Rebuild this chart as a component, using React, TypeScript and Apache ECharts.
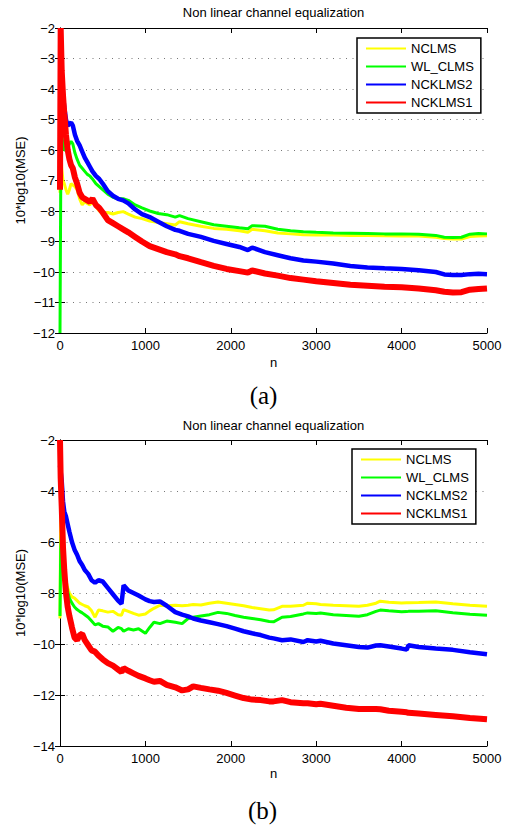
import React, { useEffect, useRef } from "react";
import * as echarts from "echarts";

const seriesNames = ["NCLMS", "WL_CLMS", "NCKLMS2", "NCKLMS1"];
const seriesColors = ["#ffff00", "#00ff00", "#0000ff", "#ff0000"];
const seriesWidths = [3, 3, 4.5, 6];

// ---- chart (a) ----
const nA = [0, 8, 20, 35, 50, 70, 90, 110, 130, 150, 175, 200, 230, 260, 290, 320, 350, 380, 420, 460, 500, 560, 620, 680, 740, 800, 880, 960, 1050, 1150, 1250, 1350, 1400, 1500, 1650, 1800, 1950, 2100, 2200, 2250, 2400, 2550, 2700, 2850, 3000, 3200, 3400, 3600, 3800, 4000, 4200, 4400, 4500, 4600, 4700, 4800, 4900, 5000];
const aNCLMS = [-7.4, -5.4, -6.6, -7.0, -7.1, -7.3, -7.45, -7.3, -7.1, -7.15, -7.2, -7.3, -7.6, -7.8, -7.7, -7.75, -7.8, -7.7, -7.85, -8.0, -8.1, -8.05, -8.1, -8.05, -8.02, -8.1, -8.2, -8.25, -8.33, -8.38, -8.42, -8.46, -8.35, -8.42, -8.5, -8.57, -8.6, -8.65, -8.7, -8.6, -8.65, -8.72, -8.75, -8.78, -8.79, -8.79, -8.8, -8.8, -8.81, -8.82, -8.82, -8.86, -8.9, -8.92, -8.92, -8.84, -8.82, -8.81];
const aWLCLMS = [-12, -7.5, -5.5, -5.8, -6.0, -6.0, -5.9, -5.8, -5.72, -5.8, -6.1, -6.3, -6.5, -6.6, -6.7, -6.8, -6.85, -6.95, -7.1, -7.2, -7.3, -7.45, -7.55, -7.6, -7.6, -7.65, -7.8, -7.9, -8.0, -8.08, -8.12, -8.2, -8.15, -8.25, -8.35, -8.45, -8.5, -8.55, -8.58, -8.48, -8.5, -8.6, -8.65, -8.68, -8.7, -8.72, -8.73, -8.74, -8.75, -8.75, -8.76, -8.8, -8.86, -8.87, -8.86, -8.76, -8.74, -8.75];
const aNCKLMS2 = [-3.7, -3.7, -3.65, -4.2, -4.6, -5.0, -5.2, -5.15, -5.1, -5.2, -5.5, -5.7, -5.85, -6.05, -6.25, -6.4, -6.55, -6.7, -6.85, -6.95, -7.1, -7.35, -7.5, -7.6, -7.65, -7.75, -7.95, -8.1, -8.2, -8.35, -8.5, -8.62, -8.65, -8.75, -8.85, -8.98, -9.08, -9.18, -9.28, -9.2, -9.35, -9.45, -9.55, -9.62, -9.66, -9.72, -9.8, -9.85, -9.88, -9.9, -9.94, -10.0, -10.08, -10.1, -10.1, -10.07, -10.06, -10.07];
const aNCKLMS1 = [-7.3, -2.0, -3.4, -4.2, -4.8, -5.5, -6.0, -6.3, -6.5, -6.6, -6.9, -7.1, -7.4, -7.55, -7.6, -7.65, -7.7, -7.6, -7.8, -7.9, -8.05, -8.3, -8.4, -8.5, -8.6, -8.7, -8.85, -9.0, -9.15, -9.25, -9.35, -9.42, -9.48, -9.55, -9.68, -9.8, -9.9, -9.97, -10.02, -9.95, -10.05, -10.12, -10.2, -10.25, -10.3, -10.36, -10.42, -10.45, -10.48, -10.5, -10.54, -10.6, -10.65, -10.67, -10.66, -10.58, -10.56, -10.54];

// ---- chart (b) ----
const nB = [0, 8, 20, 35, 50, 70, 90, 110, 140, 170, 200, 230, 260, 290, 330, 370, 410, 450, 500, 560, 620, 680, 720, 745, 800, 860, 920, 1000, 1050, 1100, 1170, 1250, 1350, 1430, 1500, 1560, 1650, 1750, 1850, 1950, 2050, 2150, 2250, 2350, 2450, 2500, 2600, 2700, 2850, 2900, 3000, 3050, 3200, 3350, 3500, 3600, 3700, 3750, 3850, 4000, 4060, 4080, 4200, 4400, 4600, 4800, 5000];
const bNCLMS = [-9.0, -5.0, -5.5, -6.3, -7.0, -7.5, -7.8, -8.0, -8.15, -8.2, -8.3, -8.4, -8.45, -8.5, -8.55, -8.7, -8.95, -8.67, -8.7, -8.75, -8.72, -8.85, -8.87, -8.65, -8.72, -8.8, -8.87, -8.82, -8.7, -8.6, -8.48, -8.5, -8.48, -8.5, -8.48, -8.45, -8.47, -8.4, -8.35, -8.4, -8.45, -8.5, -8.57, -8.62, -8.67, -8.66, -8.52, -8.52, -8.48, -8.4, -8.42, -8.45, -8.48, -8.5, -8.52, -8.48, -8.4, -8.32, -8.36, -8.39, -8.38, -8.38, -8.37, -8.35, -8.42, -8.48, -8.52];
const bWLCLMS = [-8.9, -6.3, -5.5, -6.5, -7.0, -7.6, -7.95, -8.2, -8.4, -8.55, -8.65, -8.72, -8.78, -8.85, -8.95, -9.1, -9.25, -9.2, -9.3, -9.33, -9.5, -9.35, -9.4, -9.5, -9.4, -9.45, -9.4, -9.58, -9.35, -9.15, -9.2, -9.1, -9.15, -9.2, -9.0, -8.95, -8.9, -8.85, -8.76, -8.8, -8.88, -8.95, -9.0, -9.05, -9.12, -9.13, -8.95, -8.92, -8.82, -8.78, -8.8, -8.78, -8.85, -8.88, -8.91, -8.85, -8.72, -8.67, -8.7, -8.74, -8.73, -8.72, -8.72, -8.7, -8.77, -8.83, -8.87];
const bNCKLMS2 = [-3.0, -3.0, -3.6, -4.4, -4.8, -5.0, -5.3, -5.6, -6.0, -6.3, -6.5, -6.75, -6.9, -7.1, -7.25, -7.5, -7.6, -7.5, -7.55, -7.8, -8.05, -8.3, -8.42, -7.7, -7.9, -8.0, -8.1, -8.25, -8.32, -8.35, -8.33, -8.5, -8.75, -8.85, -8.92, -9.0, -9.08, -9.15, -9.22, -9.3, -9.4, -9.5, -9.58, -9.65, -9.75, -9.78, -9.85, -9.82, -9.92, -9.85, -9.9, -9.87, -9.98, -10.05, -10.12, -10.14, -10.06, -10.05, -10.1, -10.18, -10.22, -10.05, -10.12, -10.18, -10.23, -10.32, -10.4];
const bNCKLMS1 = [-2, -3.5, -4.6, -6.2, -7.1, -8.0, -8.55, -8.9, -9.35, -9.75, -9.85, -9.65, -9.6, -9.85, -10.05, -10.25, -10.3, -10.45, -10.6, -10.75, -10.85, -11.0, -11.1, -10.95, -11.05, -11.15, -11.25, -11.35, -11.42, -11.48, -11.45, -11.6, -11.7, -11.82, -11.78, -11.66, -11.72, -11.78, -11.83, -11.92, -12.02, -12.12, -12.18, -12.2, -12.25, -12.25, -12.2, -12.28, -12.32, -12.32, -12.36, -12.34, -12.42, -12.5, -12.55, -12.55, -12.55, -12.56, -12.62, -12.66, -12.68, -12.7, -12.73, -12.78, -12.83, -12.9, -12.95];

const xTicks = { min: 0, max: 5000, interval: 1000 };
const yTicksA = { min: -12, max: -2, interval: 1 };
const yTicksB = { min: -14, max: -2, interval: 2 };

const titleText = "Non linear channel equalization";
const yName = "10*log10(MSE)";
const xName = "n";
const captions = ["(a)", "(b)"];

const SANS = "'Liberation Sans', Arial, Helvetica, sans-serif";
const SERIF = "'Liberation Serif', 'Times New Roman', serif";

const fmt = (v: number) => String(v).replace("-", "\u2212");

function buildAxes(gridIndex: number, yT: { min: number; max: number; interval: number }) {
  const line = { show: true, lineStyle: { color: "#000", width: 1 } };
  const tick = { show: true, inside: true, length: 5, lineStyle: { color: "#000", width: 1 } };
  const xs = [
    {
      type: "value", gridIndex, position: "bottom", ...xTicks,
      axisLine: line, axisTick: tick,
      axisLabel: { show: true, color: "#000", fontSize: 13, fontFamily: SANS, margin: 6, formatter: fmt },
      splitLine: { show: false },
    },
    {
      type: "value", gridIndex, position: "top", ...xTicks,
      axisLine: line, axisTick: tick, axisLabel: { show: false }, splitLine: { show: false },
    },
  ];
  const ys = [
    {
      type: "value", gridIndex, position: "left", ...yT,
      axisLine: line, axisTick: tick,
      axisLabel: { show: true, color: "#000", fontSize: 13, fontFamily: SANS, margin: 5, formatter: fmt },
      splitLine: { show: true, lineStyle: { color: "#777", width: 1, type: [1, 5.5] } },
    },
    {
      type: "value", gridIndex, position: "right", ...yT,
      axisLine: line, axisTick: tick, axisLabel: { show: false }, splitLine: { show: false },
    },
  ];
  return { xs, ys };
}

function buildSeries(ns: number[], vals: number[][], axisIndex: number) {
  return vals.map((arr, i) => ({
    type: "line",
    name: seriesNames[i],
    xAxisIndex: axisIndex,
    yAxisIndex: axisIndex,
    data: ns.map((n, k) => [n, arr[k]]),
    showSymbol: false,
    symbol: "none",
    lineStyle: { color: seriesColors[i], width: seriesWidths[i] },
    itemStyle: { color: seriesColors[i] },
    z: 2 + i,
  }));
}

function buildLegend(left: number, top: number) {
  return {
    orient: "vertical",
    left,
    top,
    padding: [4, 7, 4, 8],
    itemWidth: 40,
    itemHeight: 14,
    itemGap: 5,
    backgroundColor: "#fff",
    borderColor: "#000",
    borderWidth: 1.5,
    data: seriesNames,
    itemStyle: { color: "transparent", borderWidth: 0, opacity: 0 },
    textStyle: { color: "#000", fontSize: 13, fontFamily: SANS },
    selectedMode: false,
  };
}

function txt(text: string, x: number, y: number, size: number, family: string, rotation = 0) {
  return {
    type: "text",
    x,
    y,
    rotation,
    style: { text, fontSize: size, fontFamily: family, fill: "#000", textAlign: "center", textVerticalAlign: "middle" },
  };
}

export default function App() {
  const ref = useRef<HTMLDivElement>(null);
  useEffect(() => {
    if (!ref.current) return;
    const chart = echarts.init(ref.current, null, { renderer: "svg" });
    const a = buildAxes(0, yTicksA);
    const b = buildAxes(1, yTicksB);
    chart.setOption({
      animation: false,
      backgroundColor: "#fff",
      grid: [
        { left: 60, top: 28, width: 427, height: 305 },
        { left: 60, top: 440, width: 427, height: 306 },
      ],
      xAxis: [...a.xs, ...b.xs],
      yAxis: [...a.ys, ...b.ys],
      legend: [buildLegend(357, 38), buildLegend(352, 449)],
      series: [
        ...buildSeries(nA, [aNCLMS, aWLCLMS, aNCKLMS2, aNCKLMS1], 0),
        ...buildSeries(nB, [bNCLMS, bWLCLMS, bNCKLMS2, bNCKLMS1], 2),
      ],
      graphic: [
        txt(titleText, 273.5, 12.5, 13, SANS),
        txt(titleText, 273.5, 425.5, 13, SANS),
        txt(yName, 20.5, 180.5, 13, SANS, Math.PI / 2),
        txt(yName, 20.5, 593, 13, SANS, Math.PI / 2),
        txt(xName, 273.5, 362, 13, SANS),
        txt(xName, 273.5, 773, 13, SANS),
        txt(captions[0], 263.5, 395, 25, SERIF),
        txt(captions[1], 262.5, 810, 25, SERIF),
      ],
    });
    return () => chart.dispose();
  }, []);
  return (
    <div
      ref={ref}
      style={{ position: "absolute", left: 0, top: 0, width: 510, height: 830, background: "#fff" }}
    />
  );
}
